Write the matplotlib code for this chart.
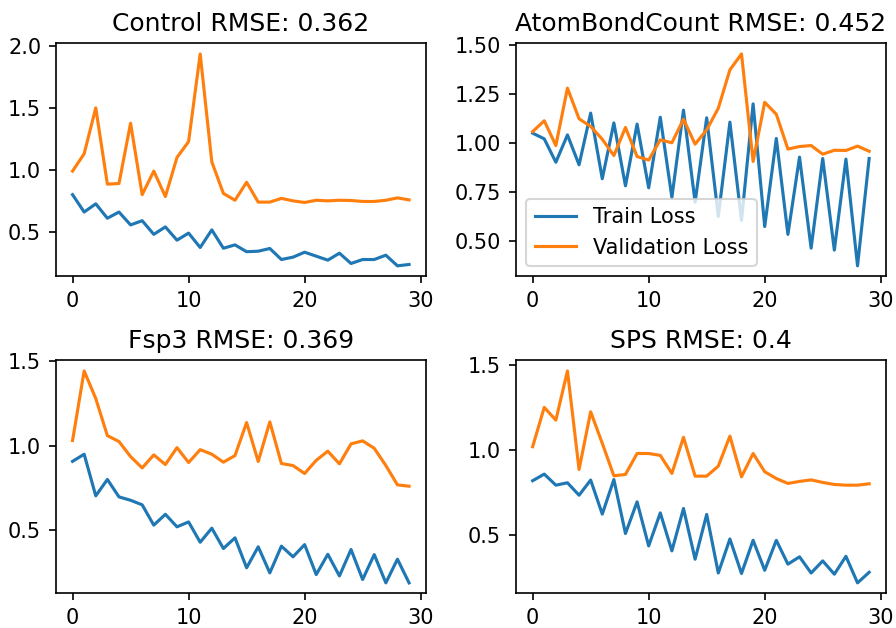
import matplotlib.pyplot as plt

epochs = list(range(30))

titles = ["Control RMSE: 0.362", "AtomBondCount RMSE: 0.452",
          "Fsp3 RMSE: 0.369", "SPS RMSE: 0.4"]

control_train = [0.80, 0.66, 0.726, 0.61, 0.66, 0.556, 0.59, 0.48, 0.54, 0.433,
                 0.49, 0.374, 0.516, 0.368, 0.395, 0.34, 0.344, 0.366, 0.277, 0.296,
                 0.336, 0.304, 0.272, 0.328, 0.245, 0.277, 0.277, 0.312, 0.226, 0.237]
control_val = [0.99, 1.13, 1.50, 0.885, 0.89, 1.376, 0.80, 0.99, 0.785, 1.10,
               1.228, 1.935, 1.065, 0.81, 0.755, 0.90, 0.74, 0.74, 0.77, 0.75,
               0.737, 0.755, 0.75, 0.755, 0.753, 0.745, 0.745, 0.755, 0.774, 0.758]

abc_train = [1.051, 1.022, 0.903, 1.042, 0.89, 1.153, 0.819, 1.103, 0.783, 1.097,
             0.773, 1.132, 0.724, 1.168, 0.70, 1.129, 0.627, 1.107, 0.607, 1.20,
             0.576, 1.024, 0.536, 0.929, 0.466, 0.922, 0.456, 0.919, 0.376, 0.922]
abc_val = [1.059, 1.114, 0.988, 1.28, 1.124, 1.085, 1.02, 0.937, 1.08, 0.932,
           0.914, 1.017, 1.002, 1.122, 0.995, 1.068, 1.178, 1.373, 1.454, 0.907,
           1.208, 1.147, 0.97, 0.983, 0.988, 0.944, 0.964, 0.963, 0.985, 0.959]

fsp3_train = [0.907, 0.949, 0.703, 0.80, 0.697, 0.677, 0.65, 0.53, 0.594, 0.52,
              0.549, 0.429, 0.512, 0.392, 0.455, 0.278, 0.402, 0.248, 0.406, 0.343,
              0.415, 0.238, 0.358, 0.23, 0.386, 0.209, 0.356, 0.189, 0.329, 0.189]
fsp3_val = [1.03, 1.441, 1.278, 1.059, 1.024, 0.935, 0.868, 0.945, 0.888, 0.988,
            0.90, 0.976, 0.949, 0.902, 0.941, 1.136, 0.906, 1.14, 0.894, 0.882,
            0.835, 0.913, 0.967, 0.892, 1.01, 1.028, 0.984, 0.882, 0.768, 0.76]

sps_train = [0.82, 0.859, 0.794, 0.808, 0.735, 0.824, 0.624, 0.827, 0.51, 0.696,
             0.437, 0.631, 0.408, 0.657, 0.359, 0.622, 0.278, 0.478, 0.275, 0.47,
             0.294, 0.47, 0.33, 0.373, 0.278, 0.349, 0.271, 0.376, 0.22, 0.282]
sps_val = [1.02, 1.251, 1.176, 1.465, 0.886, 1.225, 1.04, 0.849, 0.857, 0.98,
           0.98, 0.969, 0.863, 1.075, 0.847, 0.847, 0.906, 1.082, 0.843, 0.98,
           0.873, 0.833, 0.804, 0.816, 0.825, 0.81, 0.798, 0.794, 0.794, 0.802]

train_sets = [control_train, abc_train, fsp3_train, sps_train]
val_sets = [control_val, abc_val, fsp3_val, sps_val]
ytick_sets = [[0.5, 1.0, 1.5, 2.0],
              [0.50, 0.75, 1.00, 1.25, 1.50],
              [0.5, 1.0, 1.5],
              [0.5, 1.0, 1.5]]
ytick_fmt = ["{:.1f}", "{:.2f}", "{:.1f}", "{:.1f}"]

fig, axes = plt.subplots(2, 2, figsize=(896 / 150, 628 / 150), dpi=150)
fig.subplots_adjust(left=0.0622, right=0.9888, top=0.931, bottom=0.055,
                    wspace=0.243, hspace=0.36)

for ax, title, tr, va, yt, fmt in zip(axes.flat, titles, train_sets, val_sets,
                                      ytick_sets, ytick_fmt):
    ax.plot(epochs, tr, label="Train Loss")
    ax.plot(epochs, va, label="Validation Loss")
    ax.set_title(title)
    ax.set_xticks([0, 10, 20, 30])
    ax.set_yticks(yt)
    ax.set_yticklabels([fmt.format(v) for v in yt])

axes[0, 1].legend(loc="lower left")

fig.savefig("out.png")
